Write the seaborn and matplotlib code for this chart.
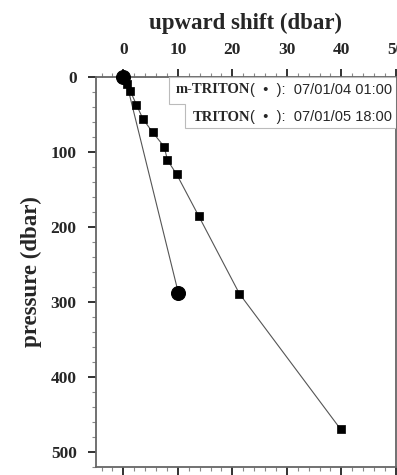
import numpy as np
import pandas as pd
import seaborn as sns
import matplotlib
matplotlib.use("Agg")
from matplotlib import pyplot as plt
from matplotlib.ticker import MultipleLocator
from matplotlib.patches import Polygon

# m-TRITON (circles) and TRITON (squares) profiles
mtriton_shift = [0.0, 0.6, 10.1]
mtriton_pres = [0, 8, 288]
triton_shift = [0.0, 0.6, 1.3, 2.4, 3.6, 5.4, 7.5, 8.1, 9.8, 13.8, 21.3, 39.9]
triton_pres = [1, 9, 19, 37, 56, 74, 93, 111, 130, 185, 289, 470]

legend_names = ["m-TRITON", "TRITON"]
legend_dates = ["(  \u2022  ):  07/01/04 01:00", "(  \u2022  ):  07/01/05 18:00"]

sns.set_style("ticks")
plt.rcParams['font.family'] = ['Liberation Serif', 'DejaVu Serif']

fig = plt.figure(figsize=(3.97, 4.75), dpi=100)
ax = fig.add_axes([0.242, 0.017, 0.755, 0.821])

line_col = "#555555"
sns.lineplot(x=mtriton_shift, y=mtriton_pres, sort=False, ax=ax, color=line_col,
             linewidth=0.8)
sns.lineplot(x=triton_shift, y=triton_pres, sort=False, ax=ax, color=line_col,
             linewidth=0.8)
sns.scatterplot(x=triton_shift, y=triton_pres, ax=ax, marker="s", s=40,
                color="black", edgecolor="black", zorder=3)
sns.scatterplot(x=mtriton_shift[::len(mtriton_shift) - 1], y=mtriton_pres[::len(mtriton_pres) - 1],
                ax=ax, marker="o", s=100, color="black", edgecolor="black", zorder=4)
for coll in ax.collections:
    coll.set_clip_on(False)

ax.set_xlim(-5, 50)
ax.set_ylim(520, 0)
ax.xaxis.set_major_locator(MultipleLocator(10))
ax.xaxis.set_minor_locator(MultipleLocator(2))
ax.yaxis.set_major_locator(MultipleLocator(100))
ax.yaxis.set_minor_locator(MultipleLocator(20))

ax.tick_params(axis="x", which="both", top=True, bottom=True, labeltop=True,
               labelbottom=False, direction="out")
ax.tick_params(axis="y", which="both", left=True, right=False, direction="out")
ax.tick_params(which="major", length=6, width=1.3, color="#222222", pad=8)
ax.tick_params(which="minor", length=3, width=0.8, color="#888888")
for lab in ax.get_xticklabels() + ax.get_yticklabels():
    lab.set_fontweight("bold")
    lab.set_fontsize(12.5)

for sp in ax.spines.values():
    sp.set_visible(True)
    sp.set_color("#666666")
    sp.set_linewidth(1.3)

ax.xaxis.set_label_position("top")
ax.set_xlabel("upward shift (dbar)", fontsize=16.5, fontweight="bold", labelpad=9)
ax.set_ylabel("pressure (dbar)", fontsize=16.5, fontweight="bold", labelpad=6)

# legend-like text box at top right
box = Polygon([(8.3, 0), (8.3, 35.5), (11.4, 35.5), (11.4, 67.5), (50, 67.5), (50, 0)],
              closed=True, facecolor="white", edgecolor="#bbbbbb", linewidth=0.8, zorder=5)
ax.add_patch(box)
for name, date, yp in zip(legend_names, legend_dates, [17, 54]):
    dt = ax.text(49.3, yp, date, ha="right", va="center", fontsize=10.5,
                 family=["Liberation Sans", "DejaVu Sans"], zorder=6)
    ax.annotate(name, xy=(0, 0.5), xycoords=dt, ha="right", va="center",
                fontsize=10.5, fontweight="bold", zorder=6)

plt.savefig("out.png", dpi=100)
plt.close(fig)
